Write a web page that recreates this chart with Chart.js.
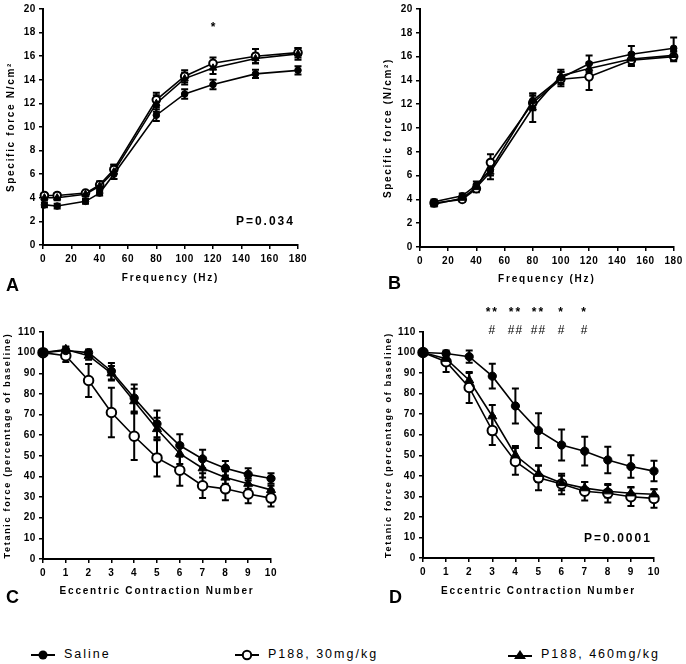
<!DOCTYPE html>
<html>
<head>
<meta charset="utf-8">
<script src="https://cdn.jsdelivr.net/npm/chart.js@4.4.0/dist/chart.umd.min.js"></script>
<style>
  body { margin: 0; background: #fff; width: 686px; height: 664px; position: relative; overflow: hidden;
         font-family: "Liberation Sans", Arial, sans-serif; }
  canvas { position: absolute; }
  .panel { position: absolute; font-weight: bold; font-size: 18px; line-height: 1; }
  .leg { position: absolute; top: 645px; font-size: 12.5px; letter-spacing: 2px; line-height: 18px; }
  .leg svg { vertical-align: middle; margin-right: 8px; }
</style>
</head>
<body>
<canvas id="chartA" width="343" height="300" style="left:0;top:0"></canvas>
<canvas id="chartB" width="343" height="300" style="left:343px;top:0"></canvas>
<canvas id="chartC" width="343" height="300" style="left:0;top:300px"></canvas>
<canvas id="chartD" width="343" height="300" style="left:343px;top:300px"></canvas>

<div class="panel" style="left:6px;top:276px">A</div>
<div class="panel" style="left:388px;top:274px">B</div>
<div class="panel" style="left:6px;top:588px">C</div>
<div class="panel" style="left:389px;top:588px">D</div>

<div class="leg" style="left:30px">
  <svg width="26" height="12"><line x1="1" y1="6" x2="25" y2="6" stroke="#000" stroke-width="2"/><circle cx="13" cy="6" r="4.5" fill="#000"/></svg>Saline</div>
<div class="leg" style="left:234px">
  <svg width="26" height="12"><line x1="1" y1="6" x2="25" y2="6" stroke="#000" stroke-width="2"/><circle cx="13" cy="6" r="4.2" fill="#fff" stroke="#000" stroke-width="2"/></svg>P188, 30mg/kg</div>
<div class="leg" style="left:507px">
  <svg width="26" height="12"><line x1="1" y1="7" x2="25" y2="7" stroke="#000" stroke-width="2"/><polygon points="13,1 19,10 7,10" fill="#000"/></svg>P188, 460mg/kg</div>

<script>
// Panel A - force frequency, first group
const freqA = [1, 10, 30, 40, 50, 80, 100, 120, 150, 180];
const salineA = [3.4, 3.3, 3.7, 4.4, 6.0, 11.0, 12.8, 13.6, 14.5, 14.8];
const salineAErr = [0.2, 0.2, 0.2, 0.2, 0.4, 0.5, 0.4, 0.4, 0.35, 0.35];
const p30A = [4.2, 4.2, 4.4, 5.1, 6.4, 12.3, 14.3, 15.4, 16.0, 16.3];
const p30AErr = [0.2, 0.2, 0.2, 0.3, 0.4, 0.6, 0.5, 0.5, 0.6, 0.4];
const p460A = [4.0, 4.0, 4.3, 5.0, 6.2, 12.0, 14.1, 15.0, 15.8, 16.2];
const p460AErr = [0.2, 0.2, 0.2, 0.3, 0.6, 0.7, 0.5, 0.5, 0.4, 0.5];

// Panel B - force frequency, second group
const freqB = [10, 30, 40, 50, 80, 100, 120, 150, 180];
const salineB = [3.8, 4.3, 5.2, 6.5, 12.3, 14.2, 15.4, 16.2, 16.7];
const salineBErr = [0.2, 0.2, 0.3, 0.5, 0.6, 0.5, 0.7, 0.7, 0.9];
const p30B = [3.7, 4.0, 4.9, 7.1, 12.1, 14.1, 14.3, 15.7, 16.0];
const p30BErr = [0.2, 0.2, 0.3, 0.7, 0.6, 0.6, 1.1, 0.5, 0.4];
const p460B = [3.6, 4.1, 5.0, 6.3, 11.7, 14.4, 15.0, 15.8, 16.1];
const p460BErr = [0.2, 0.2, 0.3, 0.6, 1.2, 0.5, 0.5, 0.5, 0.4];

// Panels C and D - eccentric contractions
const contractions = [0, 1, 2, 3, 4, 5, 6, 7, 8, 9, 10];
const salineC = [100, 101, 100, 91, 78, 65.5, 55, 48.5, 44, 41, 39];
const salineCErr = [0, 1.5, 1.5, 4, 6.5, 6.5, 5.5, 4.5, 3.5, 3, 2.5];
const p30C = [100, 98.5, 86.5, 71, 59.5, 49, 43, 35.5, 34, 31.5, 29.5];
const p30CErr = [0, 3, 8, 12, 11.5, 9, 7.5, 6, 5.5, 4.5, 4];
const p460C = [100, 101.5, 98.5, 90, 76.5, 63, 51, 44, 39.5, 36.5, 33.5];
const p460CErr = [0, 1.5, 2, 3.5, 6, 5.5, 5, 4.5, 3, 2.5, 2];

const salineD = [100, 99.5, 98, 88.5, 74, 62, 55, 52, 47.7, 44.5, 42.3];
const salineDErr = [0, 1.5, 3, 6, 8.5, 8.5, 7.5, 7, 6.5, 5.5, 5];
const p30D = [100, 95.5, 83, 62, 47, 39, 36, 32.5, 31.5, 29.8, 29];
const p30DErr = [0, 5, 7.5, 7, 6.5, 6, 5, 4.5, 4.5, 4.5, 4.5];
const p460D = [100, 97, 86.5, 69, 50, 41, 36.5, 34, 32.5, 31.5, 31];
const p460DErr = [0, 2, 3.5, 5.5, 4.5, 4, 3.5, 3, 3, 3, 2.5];

// significance marks on D
const starX = [3, 4, 5, 6, 7];
const starText = ['**', '**', '**', '*', '*'];
const hashText = ['#', '##', '##', '#', '#'];

Chart.defaults.font.family = '"Liberation Sans", Arial, sans-serif';
Chart.defaults.color = '#000';

// draws vertical SD bars behind the lines
const errorBars = {
  id: 'errorBars',
  beforeDatasetsDraw(chart) {
    const { ctx, scales: { x, y } } = chart;
    ctx.save();
    ctx.strokeStyle = '#000';
    ctx.lineWidth = 2;
    chart.data.datasets.forEach(ds => {
      (ds.errors || []).forEach((e, i) => {
        if (!e) return;
        const p = ds.data[i];
        const px = x.getPixelForValue(p.x);
        const top = y.getPixelForValue(p.y + e);
        const bot = y.getPixelForValue(p.y - e);
        ctx.beginPath();
        ctx.moveTo(px, top); ctx.lineTo(px, bot);
        ctx.moveTo(px - 3.5, top); ctx.lineTo(px + 3.5, top);
        ctx.moveTo(px - 3.5, bot); ctx.lineTo(px + 3.5, bot);
        ctx.stroke();
      });
    });
    ctx.restore();
  }
};

// text placed in data coordinates (p values, stars)
const notes = {
  id: 'notes',
  afterDatasetsDraw(chart, args, opts) {
    const { ctx, scales: { x, y } } = chart;
    (opts.items || []).forEach(n => {
      ctx.save();
      ctx.font = n.font;
      ctx.letterSpacing = n.spacing || '0px';
      ctx.fillStyle = '#000';
      ctx.textAlign = 'center';
      ctx.textBaseline = 'middle';
      ctx.fillText(n.text, x.getPixelForValue(n.x), y.getPixelForValue(n.y));
      ctx.restore();
    });
  }
};

// wide letter spacing like the original figure
const spacing = {
  id: 'spacing',
  beforeDraw(chart, args, opts) {
    Object.values(chart.scales).forEach(s => {
      if (s._spaced) return;
      s._spaced = true;
      const t = s.drawTitle, l = s.drawLabels;
      const ts = s.axis === 'x' ? opts.xTitle : opts.yTitle;
      s.drawTitle = function (...a) { this.ctx.save(); this.ctx.letterSpacing = ts; t.apply(this, a); this.ctx.restore(); };
      s.drawLabels = function (...a) { this.ctx.save(); this.ctx.letterSpacing = opts.ticks; l.apply(this, a); this.ctx.restore(); };
    });
  }
};

function series(xs, ys, errs, kind, big) {
  const r = big ? 1.25 : 1;
  const base = {
    data: xs.map((x, i) => ({ x: x, y: ys[i] })),
    errors: errs,
    borderColor: '#000',
    borderWidth: 1.6,
    pointBorderColor: '#000',
    tension: 0,
    clip: false
  };
  if (kind === 'saline') return Object.assign(base, { label: 'Saline', pointStyle: 'circle', pointRadius: 3.3 * r, pointBackgroundColor: '#000', pointBorderWidth: 1 });
  if (kind === 'p30') return Object.assign(base, { label: 'P188, 30mg/kg', pointStyle: 'circle', pointRadius: 3.8 * r, pointBackgroundColor: '#fff', pointBorderWidth: 2 });
  return Object.assign(base, { label: 'P188, 460mg/kg', pointStyle: 'triangle', pointRadius: 4.2 * r, pointBackgroundColor: '#000', pointBorderWidth: 1 });
}

function panel(id, box, datasets, xr, yr, xTitle, yTitle, yTitleSize, items) {
  const tickFont = { size: 10, weight: 'bold' };
  new Chart(document.getElementById(id), {
    type: 'line',
    data: { datasets: datasets },
    options: {
      responsive: false,
      animation: false,
      layout: { padding: { left: box.l, top: box.t, right: box.r, bottom: box.b } },
      plugins: {
        legend: { display: false },
        tooltip: { enabled: false },
        notes: { items: items },
        spacing: { xTitle: '1.8px', yTitle: '1.7px', ticks: '0.6px' }
      },
      scales: {
        x: {
          type: 'linear', min: xr[0], max: xr[1],
          ticks: { stepSize: xr[2], font: tickFont, color: '#000', padding: 4, maxRotation: 0 },
          grid: { drawOnChartArea: false, drawTicks: true, tickLength: 4, color: '#000', lineWidth: 1.5 },
          border: { color: '#000', width: 2 },
          title: { display: true, text: xTitle, font: { size: 10, weight: 'bold' }, padding: 0, color: '#000' },
          afterFit: s => { s.height = box.xh; }
        },
        y: {
          min: yr[0], max: yr[1],
          ticks: { stepSize: yr[2], font: tickFont, color: '#000', padding: 3 },
          grid: { drawOnChartArea: false, drawTicks: true, tickLength: 4, color: '#000', lineWidth: 1.5 },
          border: { color: '#000', width: 2 },
          title: { display: true, text: yTitle, font: { size: yTitleSize, weight: 'bold' }, padding: 0, color: '#000' },
          afterFit: s => { s.width = box.yw; }
        }
      }
    },
    plugins: [spacing, errorBars, notes]
  });
}

const pFont = 'bold 12px "Liberation Sans", Arial, sans-serif';
const starFont = 'bold 12px "Liberation Sans", Arial, sans-serif';
const hashFont = '12px "Liberation Sans", Arial, sans-serif';

panel('chartA', { l: 5, yw: 38, t: 6, r: 45, xh: 39, b: 16 },
  [series(freqA, salineA, salineAErr, 'saline'), series(freqA, p460A, p460AErr, 'p460'), series(freqA, p30A, p30AErr, 'p30')],
  [0, 180, 20], [0, 20, 2], 'Frequency (Hz)', 'Specific force N/cm²', 10,
  [{ x: 157, y: 2, text: 'P=0.034', font: pFont, spacing: '2px' },
   { x: 120, y: 18.4, text: '*', font: starFont }]);

panel('chartB', { l: 39, yw: 38, t: 7, r: 11, xh: 38, b: 15 },
  [series(freqB, salineB, salineBErr, 'saline'), series(freqB, p460B, p460BErr, 'p460'), series(freqB, p30B, p30BErr, 'p30')],
  [0, 180, 20], [0, 20, 2], 'Frequency (Hz)', 'Specific force (N/cm²)', 10, []);

panel('chartC', { l: 2, yw: 41, t: 32, r: 72, xh: 38, b: 3 },
  [series(contractions, salineC, salineCErr, 'saline', true), series(contractions, p460C, p460CErr, 'p460', true), series(contractions, p30C, p30CErr, 'p30', true)],
  [0, 10, 1], [0, 110, 10], 'Eccentric Contraction Number', 'Tetanic force (percentage of baseline)', 9, []);

const dItems = [{ x: 8.44, y: 9.2, text: 'P=0.0001', font: pFont, spacing: '2px' }];
starX.forEach((x, i) => {
  dItems.push({ x: x, y: 119.5, text: starText[i], font: starFont, spacing: '2px' });
  dItems.push({ x: x, y: 110.5, text: hashText[i], font: hashFont, spacing: '1px' });
});
panel('chartD', { l: 40, yw: 40, t: 32, r: 32, xh: 39, b: 3 },
  [series(contractions, salineD, salineDErr, 'saline', true), series(contractions, p460D, p460DErr, 'p460', true), series(contractions, p30D, p30DErr, 'p30', true)],
  [0, 10, 1], [0, 110, 10], 'Eccentric Contraction Number', 'Tetanic force (percentage of baseline)', 9, dItems);
</script>
</body>
</html>
